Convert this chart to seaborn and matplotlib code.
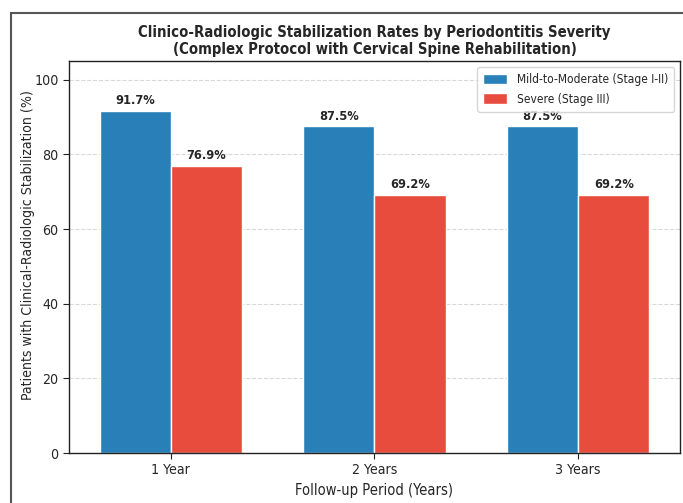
import pandas as pd
import matplotlib
matplotlib.use("Agg")
import matplotlib.pyplot as plt
import matplotlib.patches as mpatches
import seaborn as sns

# data
periods = ["1 Year", "2 Years", "3 Years"]
mild_rates = [91.7, 87.5, 87.5]
severe_rates = [76.9, 69.2, 69.2]
groups = ["Mild-to-Moderate (Stage I-II)", "Severe (Stage III)"]

df = pd.DataFrame({
    "period": periods * 2,
    "rate": mild_rates + severe_rates,
    "group": [groups[0]] * 3 + [groups[1]] * 3,
})

sns.set_style("white")
plt.rcParams["font.family"] = ["DejaVu Sans"]
plt.rcParams["font.stretch"] = "condensed"

fig = plt.figure(figsize=(6.83, 5.03), dpi=100)
ax = fig.add_axes([0.101, 0.0994, 0.8946, 0.7793])

palette = {groups[0]: "#2980b9", groups[1]: "#e74c3c"}
sns.barplot(data=df, x="period", y="rate", hue="group", palette=palette,
            width=0.7, edgecolor="white", linewidth=1, saturation=1, ax=ax)

for cont in ax.containers:
    for bar in cont:
        h = bar.get_height()
        ax.text(bar.get_x() + bar.get_width() / 2, h + 1.0, f"{h:.1f}%",
                ha="center", va="bottom", fontsize=9.2, fontweight="bold")

ax.set_ylim(0, 105)
ax.set_yticks([0, 20, 40, 60, 80, 100])
ax.yaxis.grid(True, linestyle="--", alpha=0.3, color="gray")
ax.set_axisbelow(True)
for s in ax.spines.values():
    s.set_color("#222222")
    s.set_linewidth(1)
ax.tick_params(axis="both", labelsize=10.2, length=4, color="#222222", bottom=True, left=True)

ax.set_xlabel("Follow-up Period (Years)", fontsize=10.5)
ax.set_ylabel("Patients with Clinical-Radiologic Stabilization (%)", fontsize=10.1)
ax.yaxis.set_label_coords(-0.056, 0.53)
ax.set_title("Clinico-Radiologic Stabilization Rates by Periodontitis Severity\n"
             "(Complex Protocol with Cervical Spine Rehabilitation)",
             fontsize=10.6, fontweight="bold", pad=5)

leg = ax.legend(loc="upper right", fontsize=8.6, frameon=True,
                handleheight=1.0, labelspacing=0.55, borderpad=0.5)
leg.set_title(None)

# screenshot frame around the figure
fig.patches.append(mpatches.Rectangle((11 / 683, -0.1), 1.1, 1 - 13 / 503 + 0.1,
                                      transform=fig.transFigure, fill=False,
                                      edgecolor="#555555", linewidth=1.5))

fig.savefig("out.png", dpi=100)
